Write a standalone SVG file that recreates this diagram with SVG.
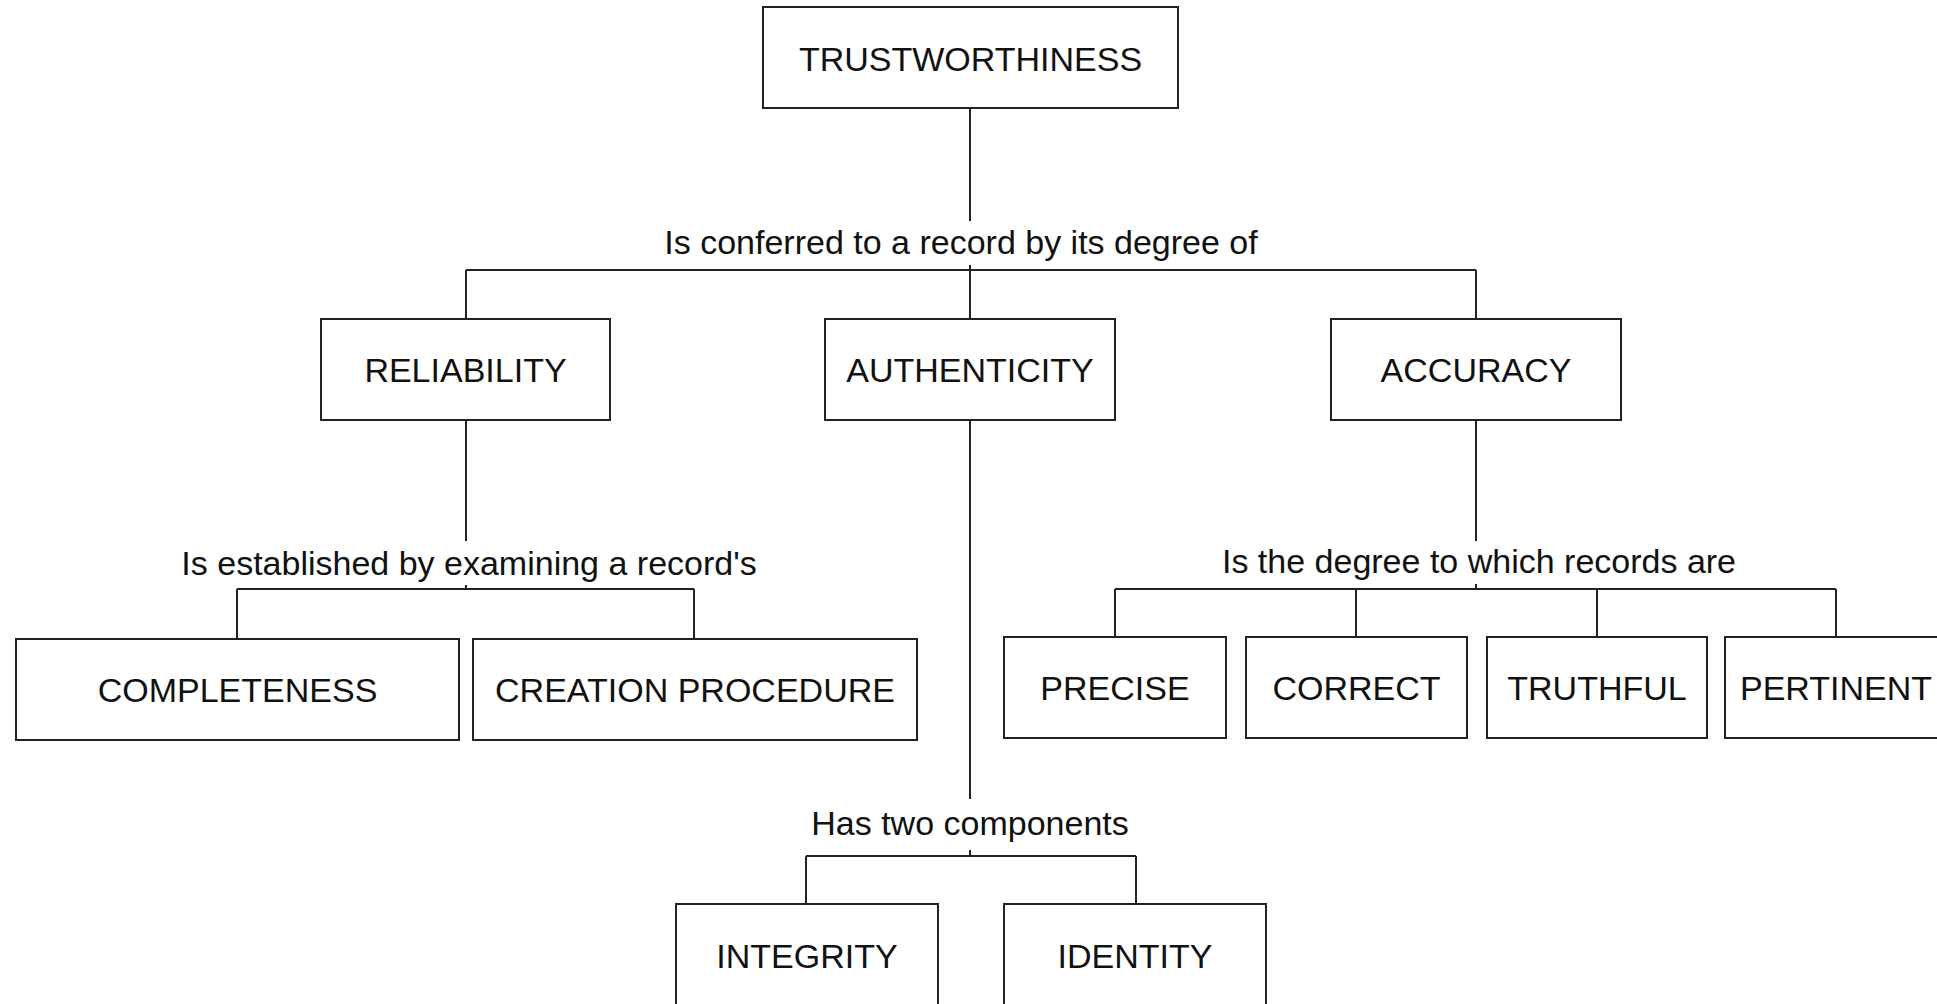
<svg xmlns="http://www.w3.org/2000/svg" width="1937" height="1004" viewBox="0 0 1937 1004">
<style>
.box{fill:#fff;stroke:#222;stroke-width:2}
.t{font-family:"Liberation Sans",Arial,sans-serif;font-size:34px;fill:#111;text-anchor:middle}
.c line{stroke:#222;stroke-width:2}
</style>
<rect width="1937" height="1004" fill="#fff"/>
<g class="c" id="connectors">
<line x1="970" y1="109" x2="970" y2="221"/>
<line x1="970" y1="265" x2="970" y2="270"/>
<line x1="466" y1="270" x2="1476" y2="270"/>
<line x1="466" y1="270" x2="466" y2="319"/>
<line x1="970" y1="270" x2="970" y2="319"/>
<line x1="1476" y1="270" x2="1476" y2="319"/>
<line x1="466" y1="420" x2="466" y2="541"/>
<line x1="466" y1="585" x2="466" y2="589"/>
<line x1="237" y1="589" x2="694" y2="589"/>
<line x1="237" y1="589" x2="237" y2="639"/>
<line x1="694" y1="589" x2="694" y2="639"/>
<line x1="970" y1="420" x2="970" y2="799"/>
<line x1="970" y1="850" x2="970" y2="856"/>
<line x1="806" y1="856" x2="1136" y2="856"/>
<line x1="806" y1="856" x2="806" y2="904"/>
<line x1="1136" y1="856" x2="1136" y2="904"/>
<line x1="1476" y1="420" x2="1476" y2="541"/>
<line x1="1476" y1="584" x2="1476" y2="589"/>
<line x1="1115" y1="589" x2="1836" y2="589"/>
<line x1="1115" y1="589" x2="1115" y2="637"/>
<line x1="1356" y1="589" x2="1356" y2="637"/>
<line x1="1597" y1="589" x2="1597" y2="637"/>
<line x1="1836" y1="589" x2="1836" y2="637"/>
<text class="t" x="961" y="254">Is conferred to a record by its degree of</text>
<text class="t" x="469" y="575">Is established by examining a record's</text>
<text class="t" x="1479" y="573">Is the degree to which records are</text>
<text class="t" x="970" y="835">Has two components</text>
</g>
<g id="trustworthiness"><rect class="box" x="763" y="7" width="415" height="101"/><text class="t" x="970.5" y="71">TRUSTWORTHINESS</text></g>
<g id="reliability"><rect class="box" x="321" y="319" width="289" height="101"/><text class="t" x="465.5" y="382">RELIABILITY</text></g>
<g id="authenticity"><rect class="box" x="825" y="319" width="290" height="101"/><text class="t" x="970" y="382">AUTHENTICITY</text></g>
<g id="accuracy"><rect class="box" x="1331" y="319" width="290" height="101"/><text class="t" x="1476" y="382">ACCURACY</text></g>
<g id="completeness"><rect class="box" x="16" y="639" width="443" height="101"/><text class="t" x="237.5" y="702">COMPLETENESS</text></g>
<g id="creation-procedure"><rect class="box" x="473" y="639" width="444" height="101"/><text class="t" x="695" y="702">CREATION PROCEDURE</text></g>
<g id="precise"><rect class="box" x="1004" y="637" width="222" height="101"/><text class="t" x="1115" y="700">PRECISE</text></g>
<g id="correct"><rect class="box" x="1246" y="637" width="221" height="101"/><text class="t" x="1356.5" y="700">CORRECT</text></g>
<g id="truthful"><rect class="box" x="1487" y="637" width="220" height="101"/><text class="t" x="1597" y="700">TRUTHFUL</text></g>
<g id="pertinent"><rect class="box" x="1725" y="637" width="222" height="101"/><text class="t" x="1836" y="700">PERTINENT</text></g>
<g id="integrity"><rect class="box" x="676" y="904" width="262" height="110"/><text class="t" x="807" y="968">INTEGRITY</text></g>
<g id="identity"><rect class="box" x="1004" y="904" width="262" height="110"/><text class="t" x="1135" y="968">IDENTITY</text></g>
</svg>
